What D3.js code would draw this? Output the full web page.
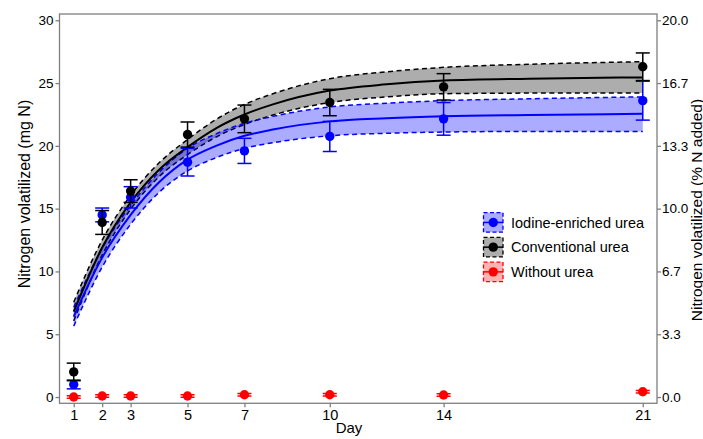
<!DOCTYPE html>
<html><head><meta charset="utf-8">
<script src="https://cdn.jsdelivr.net/npm/d3@7"></script>
<style>body{margin:0;background:#fff}svg{display:block;font-family:"Liberation Sans",Arial,sans-serif}</style>
</head><body><svg id="c" width="703" height="439"></svg>
<script>
// ---- data ----
const days = [1, 2, 3, 5, 7, 10, 14, 21];
const iodineMean = [1.0, 14.5, 15.9, 18.7, 19.6, 20.75, 22.15, 23.6];
const iodineErr = [0.35, 0.55, 0.85, 1.1, 1.0, 1.2, 1.3, 1.55];
const conventionalMean = [2.0, 13.9, 16.4, 20.9, 22.15, 23.45, 24.7, 26.3];
const conventionalErr = [0.7, 0.95, 0.9, 1.0, 1.1, 1.05, 1.05, 1.1];
const withoutMean = [0.0, 0.08, 0.08, 0.08, 0.18, 0.18, 0.16, 0.42];
const withoutErr = [0.1, 0.1, 0.1, 0.1, 0.1, 0.1, 0.1, 0.1];

const fitDays = [1, 2, 3, 4, 5, 6, 7, 8, 10, 12, 14, 17, 21];
const convFit = [6.8, 11.9, 15.5, 18.1, 19.9, 21.4, 22.5, 23.3, 24.4, 24.9, 25.2, 25.35, 25.45];
const convUpper = [7.55, 12.5, 16.05, 18.65, 20.5, 22.1, 23.3, 24.15, 25.35, 25.9, 26.25, 26.5, 26.7];
const convLower = [6.05, 11.3, 14.95, 17.55, 19.3, 20.7, 21.7, 22.45, 23.45, 23.9, 24.15, 24.2, 24.2];
const iodFit = [6.4, 11.1, 14.5, 17.1, 18.9, 20.0, 20.8, 21.3, 21.95, 22.2, 22.35, 22.45, 22.55];
const iodUpper = [7.15, 11.85, 15.25, 17.9, 19.8, 20.95, 21.8, 22.35, 23.1, 23.4, 23.6, 23.75, 23.9];
const iodLower = [5.65, 10.35, 13.75, 16.3, 18.0, 19.05, 19.8, 20.25, 20.8, 21.0, 21.1, 21.15, 21.15];

const xTicks = [1, 2, 3, 5, 7, 10, 14, 21];
const yTicks = [0, 5, 10, 15, 20, 25, 30];
const yRightTicks = ["0.0", "3.3", "6.7", "10.0", "13.3", "16.7", "20.0"];
const legendLabels = ["Iodine-enriched urea", "Conventional urea", "Without urea"];
const legendColors = ["#0000ff", "#000000", "#ff0000"];
const legendFills = ["rgba(0,0,255,0.33)", "rgba(0,0,0,0.32)", "rgba(255,0,0,0.3)"];

// ---- layout ----
const L = 59.5, R = 657, T = 14, B = 403.3;
const svg = d3.select("#c");
const x = d3.scaleLinear().domain([0.5, 21.5]).range([L, R]);
const y = d3.scaleLinear().domain([-0.5, 30.5]).range([B, T]);

// bands
function band(up, lo, fill, stroke) {
  const pts = fitDays.map((d, i) => ({d, u: up[i], l: lo[i]}));
  svg.append("path").datum(pts)
    .attr("d", d3.area().x(p => x(p.d)).y0(p => y(p.l)).y1(p => y(p.u)).curve(d3.curveMonotoneX))
    .attr("fill", fill).attr("stroke", "none");
  [up, lo].forEach(arr => {
    svg.append("path").datum(fitDays.map((d, i) => [d, arr[i]]))
      .attr("d", d3.line().x(p => x(p[0])).y(p => y(p[1])).curve(d3.curveMonotoneX))
      .attr("fill", "none").attr("stroke", stroke).attr("stroke-width", 1.5)
      .attr("stroke-dasharray", "5,3.5");
  });
}
band(convUpper, convLower, "rgba(0,0,0,0.32)", "#000");
band(iodUpper, iodLower, "rgba(0,0,255,0.33)", "#0000ff");

function fitLine(arr, stroke) {
  svg.append("path").datum(fitDays.map((d, i) => [d, arr[i]]))
    .attr("d", d3.line().x(p => x(p[0])).y(p => y(p[1])).curve(d3.curveMonotoneX))
    .attr("fill", "none").attr("stroke", stroke).attr("stroke-width", 2);
}
fitLine(convFit, "#000");
fitLine(iodFit, "#0000ff");

// points + error bars
function series(mean, err, color) {
  const g = svg.append("g");
  days.forEach((d, i) => {
    const cx = x(d);
    g.append("line").attr("x1", cx).attr("x2", cx).attr("y1", y(mean[i] - err[i])).attr("y2", y(mean[i] + err[i]))
      .attr("stroke", color).attr("stroke-width", 1.5);
    [mean[i] - err[i], mean[i] + err[i]].forEach(v => {
      g.append("line").attr("x1", cx - 7).attr("x2", cx + 7).attr("y1", y(v)).attr("y2", y(v))
        .attr("stroke", color).attr("stroke-width", 1.5);
    });
    g.append("circle").attr("cx", cx).attr("cy", y(mean[i])).attr("r", 4.7).attr("fill", color);
  });
}
series(iodineMean, iodineErr, "#0000ff");
series(conventionalMean, conventionalErr, "#000");
series(withoutMean, withoutErr, "#ff0000");

// frame
const frameColor = "#7f7f7f";
svg.append("rect").attr("x", L).attr("y", T).attr("width", R - L).attr("height", B - T)
  .attr("fill", "none").attr("stroke", frameColor).attr("stroke-width", 1.3);

// axes
const axL = svg.append("g").attr("transform", `translate(${L},0)`)
  .call(d3.axisLeft(y).tickValues(yTicks).tickSize(4).tickPadding(2));
const axR = svg.append("g").attr("transform", `translate(${R},0)`)
  .call(d3.axisRight(y).tickValues(yTicks).tickFormat((d, i) => yRightTicks[i]).tickSize(4).tickPadding(1));
const axB = svg.append("g").attr("transform", `translate(0,${B})`)
  .call(d3.axisBottom(x).tickValues(xTicks).tickSize(4).tickPadding(2));
[axL, axR, axB].forEach(a => {
  a.select(".domain").remove();
  a.selectAll("line").attr("stroke", frameColor).attr("stroke-width", 1.3);
  a.selectAll("text").attr("fill", "#000").style("font-size", "13.5px").style("font-family", '"Liberation Sans",Arial,sans-serif');
});
axB.selectAll("text").style("font-size", "14.5px");

// titles
svg.append("text").attr("x", 349).attr("y", 433).attr("text-anchor", "middle")
  .style("font-size", "15px").text("Day");
svg.append("text").attr("transform", "translate(30,194) rotate(-90)").attr("text-anchor", "middle")
  .style("font-size", "16px").text("Nitrogen volatilized (mg N)");
svg.append("text").attr("transform", "translate(701.5,210) rotate(-90)").attr("text-anchor", "middle")
  .style("font-size", "15.5px").text("Nitrogen volatilized (% N added)");

// legend
legendLabels.forEach((lab, i) => {
  const by = 212.7 + i * 24.7;
  const g = svg.append("g");
  g.append("rect").attr("x", 483.5).attr("y", by).attr("width", 19.5).attr("height", 19.5)
    .attr("fill", legendFills[i]).attr("stroke", legendColors[i]).attr("stroke-width", 1.3)
    .attr("stroke-dasharray", "4,2.5");
  g.append("line").attr("x1", 483.5).attr("x2", 503).attr("y1", by + 9.75).attr("y2", by + 9.75)
    .attr("stroke", legendColors[i]).attr("stroke-width", 1.5);
  g.append("circle").attr("cx", 493.25).attr("cy", by + 9.75).attr("r", 4.7).attr("fill", legendColors[i]);
  g.append("text").attr("x", 511).attr("y", by + 9.75).attr("dy", "0.35em")
    .style("font-size", "14.5px").text(lab);
});
</script></body></html>
